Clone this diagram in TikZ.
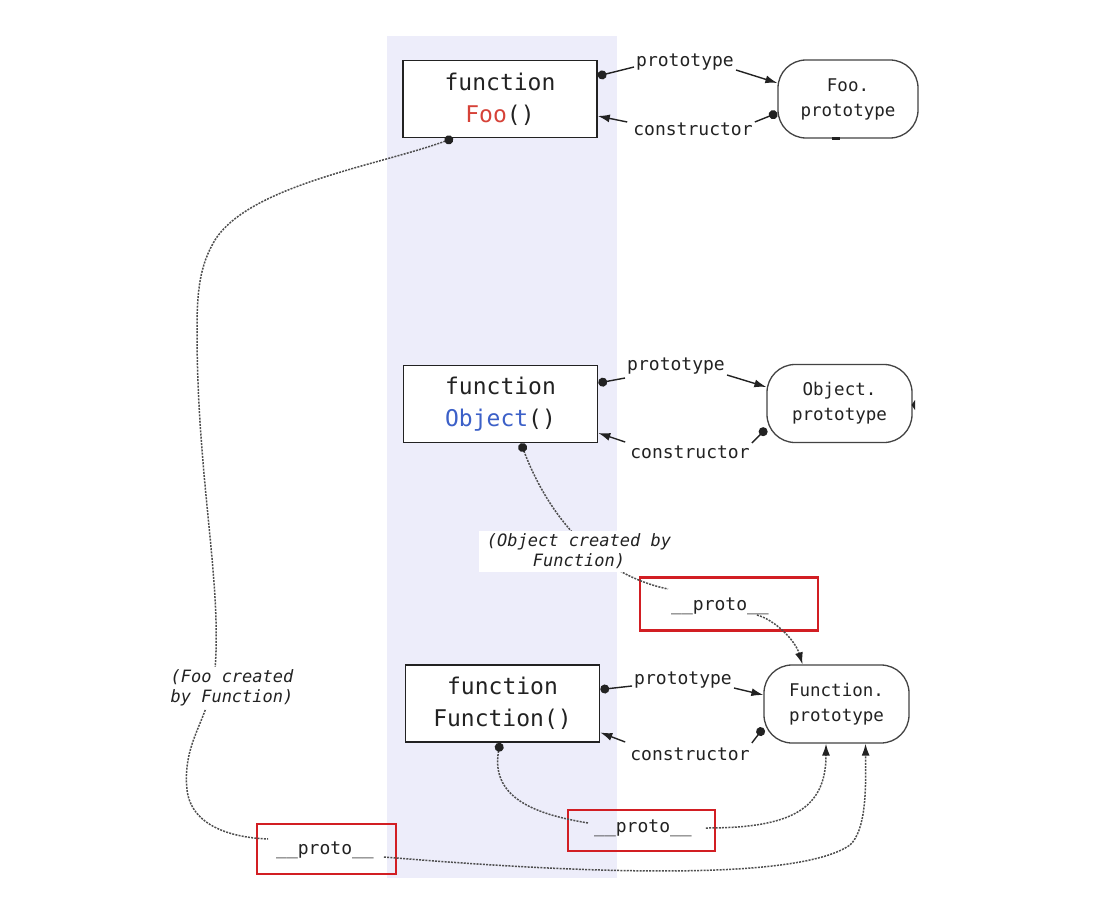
\documentclass[tikz,border=0pt]{standalone}
\usepackage{fontspec}
\newfontfamily\mono{DejaVu Sans Mono}
\usetikzlibrary{arrows.meta}
\definecolor{lav}{RGB}{237,237,250}
\definecolor{fooRed}{RGB}{214,66,56}
\definecolor{objBlue}{RGB}{60,96,200}
\definecolor{boxRed}{RGB}{210,30,35}
\definecolor{ink}{RGB}{34,34,34}
\tikzset{
 fnbox/.style={draw=ink, line width=1.6pt, fill=white, minimum width=194pt, minimum height=77pt, align=center, inner sep=0pt, font=\mono\fontsize{23}{32}\selectfont, text=ink},
 protobox/.style={draw=ink!85, line width=1.3pt, fill=white, rounded corners=28pt, minimum height=78pt, align=center, inner sep=0pt, font=\mono\fontsize{17.5}{25}\selectfont, text=ink},
 lbl/.style={font=\mono\fontsize{18}{22}\selectfont, text=ink, inner sep=2pt},
 note/.style={font=\mono\itshape\fontsize{17}{20}\selectfont, text=ink, align=center, fill=white, inner sep=3pt},
 redbox/.style={draw=boxRed, line width=2.8pt},
 solidlink/.style={line width=1.4pt, draw=ink},
 dotstart/.style={{Circle[length=9pt,color=ink]}-},
 arrtip/.style={-{Latex[length=12pt,width=8pt,color=ink]}},
 dlink/.style={line width=1.5pt, draw=ink!80, dash pattern=on 2pt off 1.2pt},
}
\begin{document}
\begin{tikzpicture}[x=1pt,y=-1pt]
\useasboundingbox (0,0) rectangle (1111,912);
\fill[lav] (387,36) rectangle (617,878);

% function boxes
\node[fnbox] (foo) at (500,99) {function\\\textcolor{fooRed}{Foo}()};
\node[fnbox] (obj) at (500.5,404) {function\\\textcolor{objBlue}{Object}()};
\node[fnbox] (fun) at (502.5,703.5) {function\\Function()};

% prototype objects
\node[protobox, minimum width=140pt] (fooP) at (848,99) {Foo.\\prototype};
\node[protobox, minimum width=145pt] (objP) at (839.5,403.5) {Object.\\prototype};
\node[protobox, minimum width=145pt] (funP) at (836.5,704) {Function.\\prototype};

% red proto boxes
\node[redbox, minimum width=178pt, minimum height=53pt] (r1) at (729,604) {};
\node[lbl] (p1) at (720,606) {\_\_proto\_\_};
\node[redbox, minimum width=147pt, minimum height=41pt] (r2) at (641.5,830.5) {};
\node[lbl] (p2) at (643,828) {\_\_proto\_\_};
\node[redbox, minimum width=139pt, minimum height=50pt] (r3) at (326.5,849) {};
\node[lbl] (p3) at (325,850) {\_\_proto\_\_};

% Foo row
\node[lbl] (fooPl) at (685,62) {prototype};
\node[lbl] (fooCl) at (693,129) {constructor};
\draw[solidlink,dotstart] ([yshift=23pt]foo.east) -- ([yshift=-5pt]fooPl.west);
\draw[solidlink,arrtip] ([yshift=-8pt]fooPl.east) -- ([yshift=16pt]fooP.west);
\draw[solidlink,dotstart] ([yshift=-14pt]fooP.west) -- ([yshift=7pt]fooCl.east);
\draw[solidlink,arrtip] ([xshift=-4pt,yshift=7pt]fooCl.west) -- ([yshift=-17pt]foo.east);

% Object row
\node[lbl] (objPl) at (676,366) {prototype};
\node[lbl] (objCl) at (690,452) {constructor};
\draw[solidlink,dotstart] ([yshift=21pt]obj.east) -- ([yshift=-12pt]objPl.west);
\draw[solidlink,arrtip] ([yshift=-9pt]objPl.east) -- ([yshift=16.5pt]objP.west);
\draw[solidlink,dotstart] ([yshift=-25pt]objP.west) -- ([yshift=9pt]objCl.east);
\draw[solidlink,arrtip] ([xshift=-3pt,yshift=10pt]objCl.west) -- ([yshift=-29pt]obj.east);

% Function row
\node[lbl] (funPl) at (683,680) {prototype};
\node[lbl] (funCl) at (690,754) {constructor};
\draw[solidlink,dotstart] ([yshift=14pt]fun.east) -- ([yshift=-6pt]funPl.west);
\draw[solidlink,arrtip] ([yshift=-8pt]funPl.east) -- ([yshift=9pt]funP.west);
\draw[solidlink,dotstart] ([yshift=-24pt]funP.west) -- ([yshift=11pt]funCl.east);
\draw[solidlink,arrtip] ([xshift=-3pt,yshift=12pt]funCl.west) -- ([yshift=-29pt]fun.east);

% dashed __proto__ links
\draw[dlink,dotstart] ([xshift=-47pt]foo.south) .. controls (380,165) and (250,185) .. (215,240)
  .. controls (200,265) and (197,290) .. (197,330)
  .. controls (197,480) and (222,580) .. (215,670)
  .. controls (210,720) and (182,740) .. (187,790)
  .. controls (192,830) and (240,838) .. ([xshift=-6pt,yshift=11pt]p3.west);
\draw[dlink,dotstart] ([xshift=20.5pt]obj.south) .. controls (550,520) and (600,575) .. ([xshift=-1pt,yshift=17pt]p1.west);
\draw[dlink,arrtip] ([xshift=-14pt,yshift=-9pt]p1.east) .. controls (775,620) and (795,640) .. ([xshift=-34pt]funP.north);
\draw[dlink,dotstart] ([xshift=-2.5pt]fun.south) .. controls (490,800) and (540,815) .. ([xshift=-4pt,yshift=5pt]p2.west);
\draw[dlink,arrtip] ([xshift=12pt]p2.east) .. controls (790,828) and (826,810) .. ([xshift=-10.5pt]funP.south);
\draw[dlink,arrtip] ([xshift=8pt,yshift=-7pt]p3.east) .. controls (600,875) and (800,880) .. (850,845)
  .. controls (866,830) and (866,790) .. ([xshift=29pt]funP.south);

% notes
\node[note, minimum width=200pt, minimum height=41pt, inner sep=0pt] (nObj) at (579,551.5) {(Object created by\\Function)};
\node[note] (nFoo) at (232,688) {(Foo created\\by Function)};

% small marks
\fill[ink] (832,137) rectangle (840,140.5);
\fill[ink] (911.5,405) -- (915,400) -- (915,410) -- cycle;
\end{tikzpicture}
\end{document}
